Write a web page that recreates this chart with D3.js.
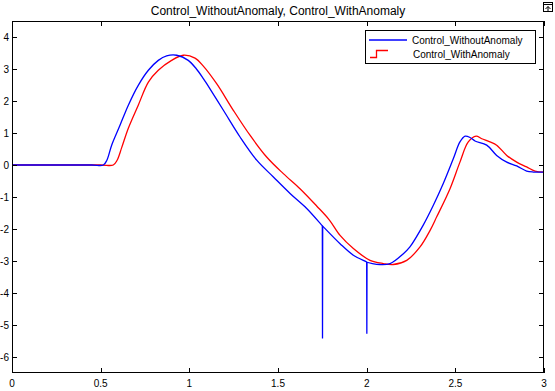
<!DOCTYPE html>
<html><head><meta charset="utf-8">
<script src="https://cdn.jsdelivr.net/npm/d3@7"></script>
<style>body{margin:0;background:#fff}svg{display:block}text{font-family:"Liberation Sans",Arial,Helvetica,sans-serif}</style>
</head><body>
<svg id="c" width="555" height="391"></svg>
<script>
const title = "Control_WithoutAnomaly, Control_WithAnomaly";
const seriesNames = ["Control_WithoutAnomaly", "Control_WithAnomaly"];
const xTicks = [0, 0.5, 1, 1.5, 2, 2.5, 3];
const xTickLabels = ["0", "0.5", "1", "1.5", "2", "2.5", "3"];
const yTicks = [4, 3, 2, 1, 0, -1, -2, -3, -4, -5, -6];
const yTickLabels = ["4", "3", "2", "1", "0", "-1", "-2", "-3", "-4", "-5", "-6"];

const withoutAnomaly = [
  [0,0],[0.45,0],[0.515,0],[0.535,0.15],[0.562,0.62],[0.609,1.24],[0.656,1.87],[0.712,2.49],[0.769,2.96],
  [0.825,3.27],[0.872,3.41],[0.929,3.43],[0.994,3.27],[1.04,3.0],[1.079,2.70],[1.098,2.54],
  [1.192,1.71],[1.286,0.875],[1.380,0.15],[1.474,-0.375],[1.568,-0.89],[1.662,-1.36],
  [1.750,-1.90],[1.751,-5.42],[1.752,-1.91],[1.850,-2.46],[1.925,-2.82],[2.0,-3.03],
  [2.001,-5.27],[2.002,-3.04],[2.075,-3.11],[2.132,-3.08],[2.207,-2.77],[2.244,-2.56],
  [2.319,-1.88],[2.376,-1.26],[2.432,-0.58],[2.489,0.2],[2.526,0.72],[2.555,0.9],
  [2.583,0.86],[2.611,0.75],[2.677,0.62],[2.733,0.30],[2.790,0.09],[2.846,-0.03],
  [2.902,-0.19],[2.940,-0.22],[3.0,-0.22]
];
const withAnomaly = [
  [0,0],[0.5,0],[0.571,0],[0.592,0.14],[0.619,0.55],[0.656,1.15],[0.712,1.87],[0.769,2.59],[0.825,2.96],
  [0.9,3.27],[0.966,3.43],[1.032,3.34],[1.079,3.09],[1.154,2.54],[1.248,1.71],[1.342,0.93],
  [1.436,0.25],[1.530,-0.27],[1.624,-0.74],[1.718,-1.28],[1.790,-1.72],[1.850,-2.20],
  [1.925,-2.61],[2.019,-2.98],[2.094,-3.08],[2.150,-3.11],[2.226,-2.98],[2.301,-2.56],
  [2.357,-2.05],[2.395,-1.62],[2.470,-0.74],[2.526,0.09],[2.573,0.72],[2.617,0.9],
  [2.649,0.82],[2.695,0.72],[2.733,0.62],[2.79,0.30],[2.846,0.09],[2.902,-0.06],
  [2.949,-0.19],[3.0,-0.22]
];
const colors = ["#0000ff", "#ff0000"];

const L = 12, R = 544, T = 21, B = 373;
const x = d3.scaleLinear().domain([0, 3]).range([L, R]);
const y = d3.scaleLinear().domain([-6.5, 4.5]).range([B, T]);
const svg = d3.select("#c");

svg.append("text").attr("x", (L + R) / 2).attr("y", 15).attr("text-anchor", "middle")
  .attr("font-size", 12).text(title);

svg.append("clipPath").attr("id", "pc").append("rect")
  .attr("x", L).attr("y", T).attr("width", R - L).attr("height", B - T);

const smoothLine = d3.line().x(d => x(d[0])).y(d => y(d[1])).curve(d3.curveCatmullRom.alpha(0.5));
const straight = d3.line().x(d => x(d[0])).y(d => y(d[1]));

function drawSeries(s, color) {
  // spike samples: points that sit between two very close x neighbours
  const isSpike = (d, i) => i > 0 && i < s.length - 1 && (d[0] - s[i - 1][0]) < 0.005 && (s[i + 1][0] - d[0]) < 0.005;
  const smooth = s.filter((d, i) => !isSpike(d, i));
  svg.append("path").attr("d", smoothLine(smooth)).attr("fill", "none")
    .attr("stroke", color).attr("stroke-width", 1.3).attr("clip-path", "url(#pc)");
  s.forEach((d, i) => {
    if (isSpike(d, i)) {
      svg.append("path").attr("d", straight([s[i - 1], d, s[i + 1]])).attr("fill", "none")
        .attr("stroke", color).attr("stroke-width", 1.3).attr("clip-path", "url(#pc)");
    }
  });
}
drawSeries(withAnomaly, colors[1]);
drawSeries(withoutAnomaly, colors[0]);

const tl = 5;
const g = svg.append("g").attr("stroke", "#000").attr("stroke-width", 1).attr("shape-rendering", "crispEdges");
g.append("rect").attr("x", L + 0.5).attr("y", T + 0.5).attr("width", R - L - 1).attr("height", B - T - 1).attr("fill", "none");
xTicks.forEach(t => {
  const px = Math.round(x(t)) + 0.5;
  g.append("line").attr("x1", px).attr("x2", px).attr("y1", B).attr("y2", B - tl);
  g.append("line").attr("x1", px).attr("x2", px).attr("y1", T).attr("y2", T + tl);
});
yTicks.forEach(t => {
  const py = Math.round(y(t)) + 0.5;
  g.append("line").attr("x1", L).attr("x2", L + tl).attr("y1", py).attr("y2", py);
  g.append("line").attr("x1", R).attr("x2", R - tl).attr("y1", py).attr("y2", py);
});
xTicks.forEach((t, i) => {
  svg.append("text").attr("x", x(t)).attr("y", 387).attr("text-anchor", "middle")
    .attr("font-size", 10).text(xTickLabels[i]);
});
yTicks.forEach((t, i) => {
  svg.append("text").attr("x", 9).attr("y", y(t) + 3.5).attr("text-anchor", "end")
    .attr("font-size", 10).text(yTickLabels[i]);
});

const lg = svg.append("g");
lg.append("rect").attr("x", 365.5).attr("y", 30.5).attr("width", 170).attr("height", 33)
  .attr("fill", "#fff").attr("stroke", "#000").attr("shape-rendering", "crispEdges");
lg.append("line").attr("x1", 369).attr("x2", 407).attr("y1", 40).attr("y2", 40)
  .attr("stroke", colors[0]).attr("stroke-width", 1.3);
lg.append("path").attr("d", "M370,57.5H376.5V50.5H388").attr("fill", "none")
  .attr("stroke", colors[1]).attr("stroke-width", 1.3);
lg.append("text").attr("x", 412).attr("y", 43.5).attr("font-size", 10).text(seriesNames[0]);
lg.append("text").attr("x", 413).attr("y", 57.5).attr("font-size", 10).text(seriesNames[1]);

const ic = svg.append("g").attr("stroke", "#000").attr("fill", "none").attr("shape-rendering", "crispEdges");
ic.append("rect").attr("x", 543.5).attr("y", 2.5).attr("width", 9).attr("height", 9);
ic.append("line").attr("x1", 543.5).attr("x2", 552.5).attr("y1", 4.5).attr("y2", 4.5);
ic.append("path").attr("d", "M548,11V6.5M545.5,9L548,6.5L550.5,9").attr("shape-rendering", "auto");
</script>
</body></html>
